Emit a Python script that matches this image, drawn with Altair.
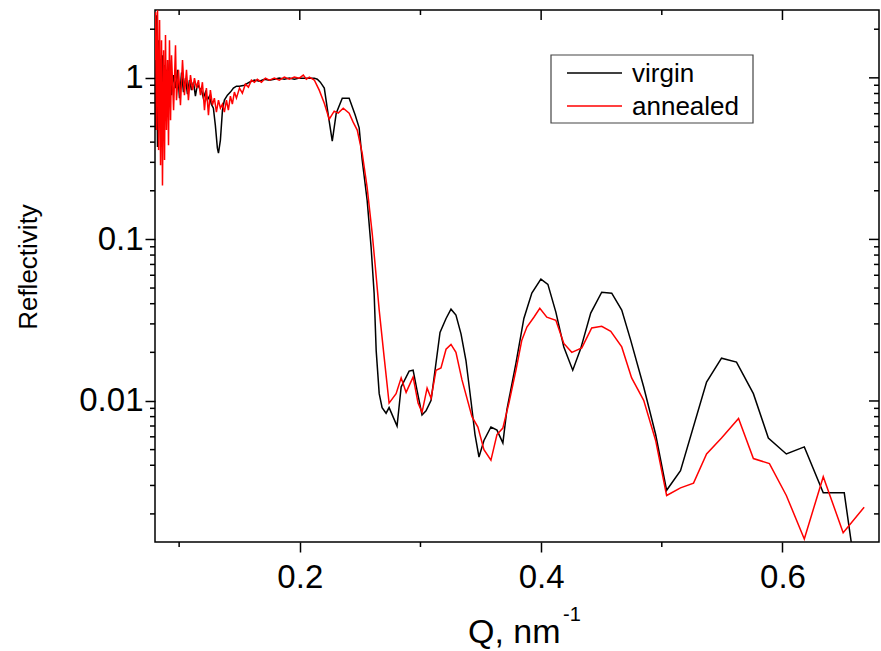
import altair as alt
import pandas as pd

# ---------------- data ----------------
virgin_q = [0.0797, 0.0805, 0.0813, 0.0821, 0.0830, 0.0838, 0.0846, 0.0854, 0.0862, 0.0871, 0.0879, 0.0887, 0.0895, 0.0904,
            0.0920, 0.0937, 0.0954, 0.0970, 0.0987, 0.1003, 0.1020, 0.1036, 0.1053, 0.1069, 0.1086, 0.1102, 0.1119, 0.1135,
            0.1152, 0.1168, 0.1185, 0.1201, 0.1218, 0.1234, 0.1251, 0.1267, 0.1284, 0.1300, 0.1317, 0.1326,
            0.1342, 0.1359, 0.1375, 0.1400, 0.1425, 0.1450, 0.1475, 0.1500, 0.1541, 0.1582, 0.1624, 0.1665, 0.1706, 0.1748,
            0.1789, 0.1830, 0.1872, 0.1913, 0.1955, 0.1996, 0.2037, 0.2079, 0.2120,
            0.2145, 0.2170, 0.2203, 0.2236, 0.2269, 0.2302, 0.2352, 0.2409, 0.2459, 0.2492, 0.2517, 0.2558, 0.2591, 0.2616, 0.2633,
            0.2658, 0.2682, 0.2715, 0.2740, 0.2806, 0.2840, 0.2906, 0.2939, 0.2972, 0.3013, 0.3046, 0.3088,
            0.3162, 0.3212, 0.3253, 0.3294, 0.3336, 0.3377, 0.3418, 0.3452, 0.3485, 0.3526, 0.3584, 0.3634, 0.3683, 0.3716,
            0.3791, 0.3857, 0.3923, 0.3998, 0.4056,
            0.4122, 0.4188, 0.4262, 0.4328, 0.4411, 0.4502, 0.4585, 0.4668, 0.4742, 0.4850, 0.4949, 0.5040, 0.5155, 0.5371,
            0.5495, 0.5619, 0.5759, 0.5883, 0.6032, 0.6181, 0.6338, 0.6512, 0.6586]
virgin_r = [1.97, 0.475, 2.44, 0.373, 1.71, 0.631, 1.29, 0.547, 1.38, 0.781, 1.20, 0.728, 1.12, 0.839,
            1.29, 0.781, 1.04, 0.864, 1.12, 0.749, 1.08, 0.816, 0.996, 0.793, 0.968, 0.839, 0.94, 0.77,
            0.914, 0.864, 0.839, 0.749, 0.816, 0.728, 0.77, 0.687, 0.649, 0.51, 0.367, 0.342,
            0.412, 0.631, 0.728, 0.781, 0.816, 0.864, 0.888, 0.888, 0.90, 0.94, 0.968, 0.954, 0.98, 0.968,
            0.98, 0.996, 0.98, 0.996, 0.98, 0.996, 0.996, 0.996, 0.996,
            0.98, 0.94, 0.864, 0.588, 0.406, 0.605, 0.749, 0.749, 0.588, 0.49, 0.31, 0.175, 0.0895, 0.0464, 0.0205,
            0.0111, 0.0091, 0.0084, 0.0091, 0.0070, 0.0122, 0.0153, 0.0155, 0.0116, 0.0082, 0.0087, 0.0101,
            0.0266, 0.0324, 0.037, 0.034, 0.026, 0.0178, 0.0101, 0.0062, 0.0045, 0.0057, 0.0069, 0.0066, 0.0055, 0.0088,
            0.0171, 0.0324, 0.0465, 0.0568, 0.0527,
            0.0355, 0.0216, 0.0155, 0.0211, 0.035, 0.0471, 0.0465, 0.0365, 0.0238, 0.0122, 0.0062, 0.0028, 0.0037, 0.0131,
            0.0184, 0.0174, 0.0111, 0.0059, 0.0047, 0.0052, 0.0027, 0.0027, 0.0011]

annealed_q = [0.0797, 0.0805, 0.0813, 0.0821, 0.0830, 0.0838, 0.0846, 0.0854, 0.0862, 0.0871, 0.0879, 0.0887, 0.0895, 0.0904,
              0.0912, 0.0920, 0.0929, 0.0937, 0.0954, 0.0970, 0.0978, 0.0995, 0.1011, 0.1028, 0.1044, 0.1061, 0.1077, 0.1094,
              0.1111, 0.1127, 0.1144, 0.1160, 0.1177, 0.1193, 0.1210, 0.1226, 0.1243, 0.1259, 0.1276, 0.1292, 0.1309, 0.1326,
              0.1342, 0.1359, 0.1375, 0.1392, 0.1408, 0.1425, 0.1441, 0.1458, 0.1475, 0.1500, 0.1524, 0.1549, 0.1574, 0.1599,
              0.1624, 0.1648, 0.1682, 0.1715, 0.1748, 0.1789, 0.1830, 0.1872, 0.1913, 0.1955, 0.1996, 0.2029, 0.2054, 0.2079,
              0.2120, 0.2161, 0.2203, 0.2244, 0.2285, 0.2318, 0.2360, 0.2409, 0.2442, 0.2476, 0.2517, 0.2558, 0.2600, 0.2624,
              0.2658, 0.2699, 0.2740, 0.2798, 0.2840, 0.2881, 0.2939, 0.2980, 0.3013, 0.3055, 0.3088, 0.3129, 0.3170, 0.3212,
              0.3253, 0.3294, 0.3344, 0.3427, 0.3476, 0.3526, 0.3584, 0.3634, 0.3683, 0.3733, 0.3791, 0.3840, 0.3882, 0.3940,
              0.3989, 0.4047, 0.4122, 0.4188, 0.4254, 0.4337, 0.4419, 0.4502, 0.4577, 0.4668, 0.4750, 0.4850, 0.4949, 0.5040,
              0.5155, 0.5263, 0.5371, 0.5495, 0.5636, 0.5759, 0.5892, 0.6032, 0.6181, 0.6338, 0.6503, 0.6677]
annealed_r = [1.29, 2.55, 0.475, 2.62, 0.357, 2.28, 0.288, 1.71, 0.216, 1.48, 0.31, 1.84, 0.475, 1.29,
              0.383, 1.71, 0.547, 1.38, 0.631, 1.59, 0.728, 1.12, 0.678, 1.29, 0.781, 1.12, 0.728, 1.04,
              0.839, 0.996, 0.864, 0.968, 0.781, 0.94, 0.631, 0.864, 0.588, 0.839, 0.678, 0.749, 0.613, 0.728,
              0.649, 0.687, 0.613, 0.728, 0.631, 0.77, 0.687, 0.816, 0.749, 0.864, 0.804, 0.914, 0.876, 0.968,
              0.94, 0.98, 0.94, 0.996, 0.968, 0.996, 0.968, 1.01, 0.98, 1.01, 0.996, 1.04, 0.98, 1.01,
              0.97, 0.839, 0.697, 0.555, 0.622, 0.605, 0.649, 0.605, 0.532, 0.475, 0.342, 0.21, 0.109, 0.07,
              0.0365, 0.0187, 0.0097, 0.0111, 0.0139, 0.0113, 0.0141, 0.0097, 0.0085, 0.0120, 0.0104, 0.0155, 0.0160, 0.0209,
              0.0224, 0.0200, 0.0135, 0.0080, 0.0069, 0.0050, 0.0043, 0.0062, 0.0068, 0.0097, 0.0155, 0.0238, 0.0287, 0.033,
              0.0375, 0.033, 0.0316, 0.0227, 0.020, 0.0213, 0.0283, 0.029, 0.027, 0.0216, 0.0139, 0.0101, 0.0057, 0.0026,
              0.0029, 0.0031, 0.0047, 0.0059, 0.0078, 0.0044, 0.0041, 0.0026, 0.0014, 0.0034, 0.00153, 0.0022]

series_names = ["virgin", "annealed"]
series_colors = ["#000000", "#ff0000"]

x_major = [0.2, 0.4, 0.6]
x_minor = [0.1, 0.3, 0.5]
y_major = [0.01, 0.1, 1]
y_minor = [0.002, 0.003, 0.004, 0.005, 0.006, 0.007, 0.008, 0.009,
           0.02, 0.03, 0.04, 0.05, 0.06, 0.07, 0.08, 0.09,
           0.2, 0.3, 0.4, 0.5, 0.6, 0.7, 0.8, 0.9, 2]

# ---------------- layout ----------------
W, H = 724, 532
FONT = "Liberation Sans"
xs = alt.Scale(domain=[0.08, 0.68], nice=False, zero=False)
ys = alt.Scale(type="log", domain=[0.00134, 2.63], nice=False)

df_v = pd.DataFrame({"Q": virgin_q, "R": virgin_r})
df_a = pd.DataFrame({"Q": annealed_q, "R": annealed_r})

x_axis = alt.Axis(values=x_major, format=".1f", tickSize=10, tickWidth=1.5, tickColor="black",
                  domain=False, grid=False, labelFont=FONT, labelFontSize=33, labelColor="black",
                  labelPadding=9, title=None, orient="bottom")
y_axis = alt.Axis(values=y_major, format="~g", tickSize=10, tickWidth=1.5, tickColor="black",
                  domain=False, grid=False, labelFont=FONT, labelFontSize=33, labelColor="black",
                  labelPadding=2, title=None, orient="left")


def X(field):
    return alt.X(field, type="quantitative", scale=xs, axis=x_axis)


def Y(field):
    return alt.Y(field, type="quantitative", scale=ys, axis=y_axis)


line_v = alt.Chart(df_v).mark_line(color=series_colors[0], strokeWidth=1.5, clip=True).encode(
    x=X("Q"), y=Y("R"))
line_a = alt.Chart(df_a).mark_line(color=series_colors[1], strokeWidth=1.5, clip=True).encode(
    x=X("Q"), y=Y("R"))

# minor / mirrored ticks
dfx_minor = pd.DataFrame({"v": x_minor})
dfx_major = pd.DataFrame({"v": x_major})
dfy_minor = pd.DataFrame({"v": y_minor})
dfy_major = pd.DataFrame({"v": y_major})

tk = dict(color="black", strokeWidth=1.5)
bottom_minor = alt.Chart(dfx_minor).mark_rule(**tk).encode(
    x=X("v"), y=alt.value(H), y2=alt.value(H + 5))
top_minor = alt.Chart(dfx_minor).mark_rule(**tk).encode(
    x=X("v"), y=alt.value(0), y2=alt.value(5))
top_major = alt.Chart(dfx_major).mark_rule(**tk).encode(
    x=X("v"), y=alt.value(0), y2=alt.value(10))
left_minor = alt.Chart(dfy_minor).mark_rule(**tk).encode(
    y=Y("v"), x=alt.value(-5), x2=alt.value(0))
right_minor = alt.Chart(dfy_minor).mark_rule(**tk).encode(
    y=Y("v"), x=alt.value(W - 5), x2=alt.value(W))
right_major = alt.Chart(dfy_major).mark_rule(**tk).encode(
    y=Y("v"), x=alt.value(W - 10), x2=alt.value(W))

one = pd.DataFrame({"a": [0]})

# axis titles
y_title = alt.Chart(one).mark_text(
    angle=270, font=FONT, fontSize=26, color="black", align="center", baseline="middle",
    text="Reflectivity"
).encode(x=alt.value(29 - 155), y=alt.value(267 - 10))
x_title = alt.Chart(one).mark_text(
    font=FONT, fontSize=34, color="black", align="left", baseline="alphabetic", text="Q, nm"
).encode(x=alt.value(468 - 155), y=alt.value(643 - 10))
x_title_sup = alt.Chart(one).mark_text(
    font=FONT, fontSize=20, color="black", align="left", baseline="alphabetic", text="-1"
).encode(x=alt.value(563 - 155), y=alt.value(621 - 10))

# legend (manual box like the reference)
leg_box = alt.Chart(one).mark_rect(
    fill="white", stroke="#444444", strokeWidth=1.2
).encode(x=alt.value(396), x2=alt.value(598), y=alt.value(45), y2=alt.value(113))
legend_layers = [leg_box]
for i, (name, col) in enumerate(zip(series_names, series_colors)):
    yy = 63 + 33 * i
    legend_layers.append(
        alt.Chart(one).mark_rule(color=col, strokeWidth=1.5).encode(
            x=alt.value(412), x2=alt.value(467), y=alt.value(yy))
    )
    legend_layers.append(
        alt.Chart(one).mark_text(font=FONT, fontSize=26, color="black", align="left",
                                 baseline="middle", text=name).encode(
            x=alt.value(477), y=alt.value(yy + 1))
    )

chart = alt.layer(
    line_v, line_a,
    bottom_minor, top_minor, top_major, left_minor, right_minor, right_major,
    y_title, x_title, x_title_sup,
    *legend_layers,
).properties(
    width=W, height=H,
    autosize=alt.AutoSizeParams(type="none"),
    padding={"left": 155, "top": 10, "right": 2, "bottom": 109},
    background="white",
).configure_view(stroke="black", strokeWidth=1.5)

chart.save("out.html", embed_options={"renderer": "svg", "actions": False})
